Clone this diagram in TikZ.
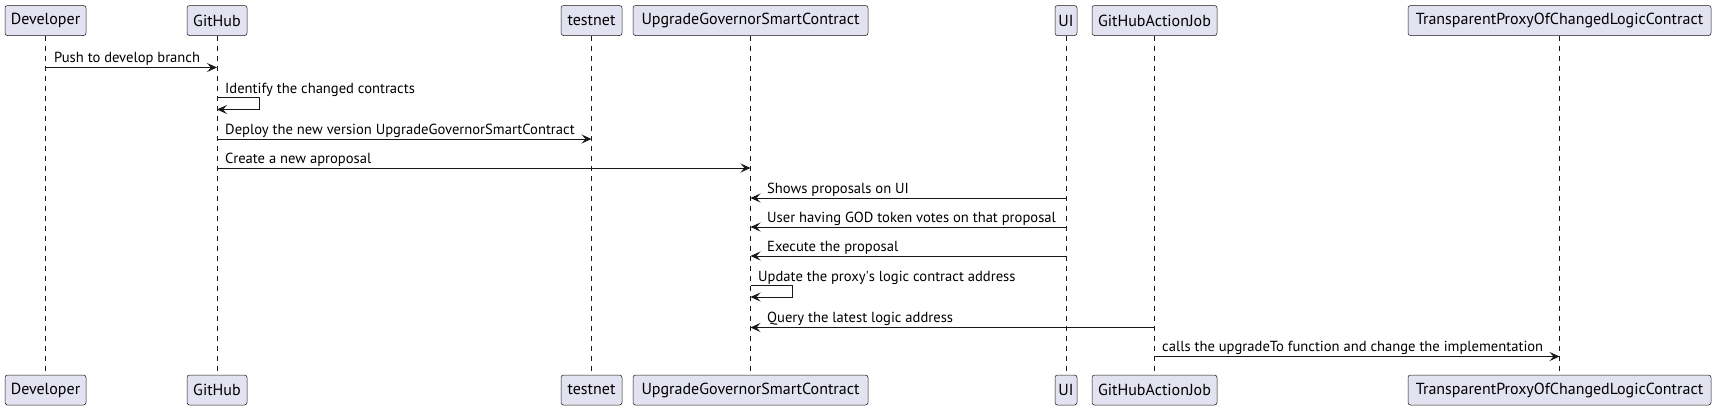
\documentclass[tikz,border=0pt]{standalone}
\usepackage{fontspec}
\setmainfont{PT Sans}
\usetikzlibrary{arrows.meta}
\definecolor{boxfill}{HTML}{E2E2F0}
\definecolor{ink}{HTML}{181818}
\tikzset{
 part/.style={draw=ink, fill=boxfill, rounded corners=2.5pt, line width=0.5pt, minimum height=30pt, inner sep=0pt, font=\fontsize{16}{19}\selectfont, text=black},
 life/.style={draw=ink, line width=0.5pt, dash pattern=on 5pt off 5pt},
 msg/.style={draw=ink, line width=1pt, -{Stealth[length=10pt,width=9pt,inset=4pt]}},
 lbl/.style={anchor=base west, inner sep=0pt, font=\fontsize{14.6}{17}\selectfont, text=black},
}
\begin{document}
\begin{tikzpicture}[x=1pt,y=-1pt]
\useasboundingbox (0,0) rectangle (1722,410);
\foreach \n/\t/\x/\w in {dev/Developer/45.5/81, gh/GitHub/217/60, tn/testnet/591.5/61, ug/UpgradeGovernorSmartContract/750.5/235, ui/UI/1066/22, ga/GitHubActionJob/1154.5/125, tp/TransparentProxyOfChangedLogicContract/1559.5/303}{
 \node[part, minimum width=\w pt] (\n-top) at (\x,20.5) {\t};
 \node[part, minimum width=\w pt] (\n-bot) at (\x,390) {\t};
 \draw[life] (\n-top) -- (\n-bot);
}
% 1
\draw[msg] (dev-top |- 0,67.5) -- (gh-top |- 0,67.5);
\node[lbl] (l1) at (54,62.5) {Push to develop branch};
% 2
\draw[msg] (gh-top |- 0,97.5) -- ++(42,0) -- ++(0,12) -- (gh-top |- 0,109.5);
\node[lbl] (l2) at (225,93) {Identify the changed contracts};
% 3
\draw[msg] (gh-top |- 0,139) -- (tn-top |- 0,139);
\node[lbl] (l3) at (225,134) {Deploy the new version UpgradeGovernorSmartContract};
% 4
\draw[msg] (gh-top |- 0,168) -- (ug-top |- 0,168);
\node[lbl] (l4) at (225,163) {Create a new aproposal};
% 5
\draw[msg] (ui-top |- 0,198) -- (ug-top |- 0,198);
\node[lbl] (l5) at (767,193) {Shows proposals on UI};
% 6
\draw[msg] (ui-top |- 0,227) -- (ug-top |- 0,227);
\node[lbl] (l6) at (767,222) {User having GOD token votes on that proposal};
% 7
\draw[msg] (ui-top |- 0,256) -- (ug-top |- 0,256);
\node[lbl] (l7) at (767,251) {Execute the proposal};
% 8
\draw[msg] (ug-top |- 0,285) -- ++(42,0) -- ++(0,12) -- (ug-top |- 0,297);
\node[lbl] (l8) at (758,281) {Update the proxy\textquotesingle s logic contract address};
% 9
\draw[msg] (ga-top |- 0,327.5) -- (ug-top |- 0,327.5);
\node[lbl] (l9) at (767,322.5) {Query the latest logic address};
% 10
\draw[msg] (ga-top |- 0,356.5) -- (tp-top |- 0,356.5);
\node[lbl] (l10) at (1162,351.5) {calls the upgradeTo function and change the implementation};
\end{tikzpicture}
\end{document}
